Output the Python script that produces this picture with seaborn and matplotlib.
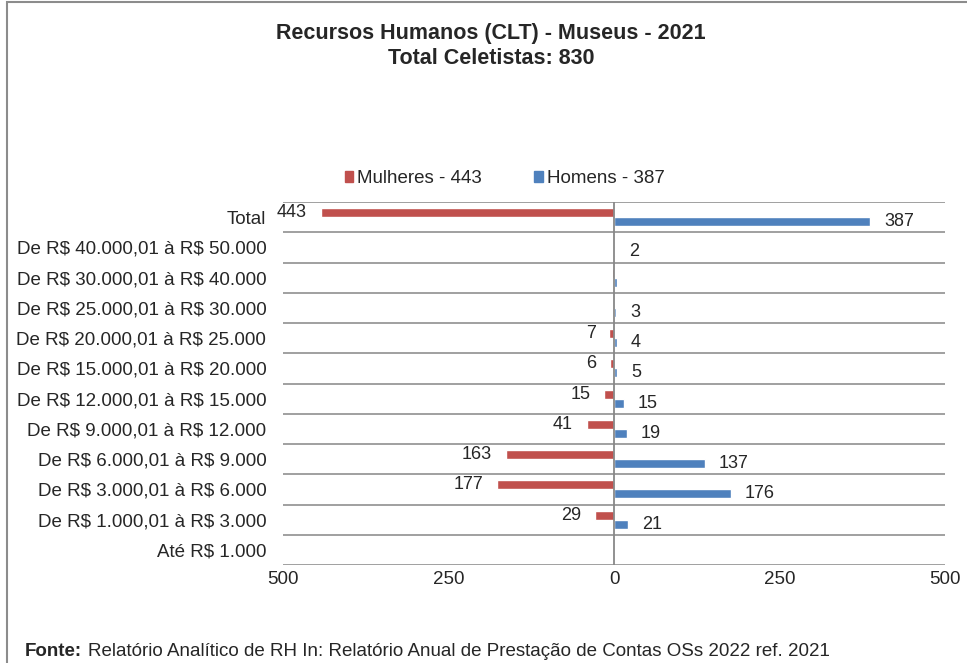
import numpy as np
import pandas as pd
import matplotlib
matplotlib.use("Agg")
import matplotlib.pyplot as plt
import seaborn as sns
from matplotlib.patches import Rectangle

# dados do grafico
faixas = ["Total",
          "De R$ 40.000,01 à R$ 50.000",
          "De R$ 30.000,01 à R$ 40.000",
          "De R$ 25.000,01 à R$ 30.000",
          "De R$ 20.000,01 à R$ 25.000",
          "De R$ 15.000,01 à R$ 20.000",
          "De R$ 12.000,01 à R$ 15.000",
          "De R$ 9.000,01 à R$ 12.000",
          "De R$ 6.000,01 à R$ 9.000",
          "De R$ 3.000,01 à R$ 6.000",
          "De R$ 1.000,01 à R$ 3.000",
          "Até R$ 1.000"]
mulheres = [443, 0, 3, 2, 7, 6, 15, 41, 163, 177, 29, 0]
homens = [387, 2, 5, 3, 4, 5, 15, 19, 137, 176, 21, 0]
rotulos_mulheres = ["443", "", "", "", "7", "6", "15", "41", "163", "177", "29", ""]
rotulos_homens = ["387", "2", "", "3", "4", "5", "15", "19", "137", "176", "21", ""]
ticks_x = [-500, -250, 0, 250, 500]

nome_m = f"Mulheres - {mulheres[0]}"
nome_h = f"Homens - {homens[0]}"

df = pd.DataFrame({
    "Faixa": faixas * 2,
    "Valor": [-v for v in mulheres] + homens,
    "Sexo": [nome_m] * len(faixas) + [nome_h] * len(faixas),
})

sns.set_style("white")
plt.rcParams["font.family"] = ["Liberation Sans", "DejaVu Sans"]

fig = plt.figure(figsize=(9.67, 6.63), dpi=100)
ax = fig.add_axes([0.2927, 0.1478, 0.6846, 0.5475])

sns.barplot(data=df, y="Faixa", x="Valor", hue="Sexo", orient="h",
            hue_order=[nome_m, nome_h], palette=["#C0504D", "#4F81BD"],
            width=0.6, saturation=1, errorbar=None, ax=ax, legend=False)

ax.bar_label(ax.containers[0], labels=rotulos_mulheres, padding=10, fontsize=13)
ax.bar_label(ax.containers[1], labels=rotulos_homens, padding=10, fontsize=13)

ax.set_xlim(-500, 500)
ax.set_ylim(len(faixas) - 0.5, -0.5)
ax.set_xticks(ticks_x)
ax.set_xticklabels([str(abs(t)) for t in ticks_x], fontsize=13.5)
ax.set_yticks(range(len(faixas)))
ax.set_yticklabels([f.replace("$", r"\$") for f in faixas], fontsize=13.5)
ax.set_yticks(np.arange(-0.5, len(faixas), 1), minor=True)
ax.tick_params(axis="both", which="both", length=0)
ax.tick_params(axis="y", pad=12)
ax.tick_params(axis="x", pad=4)
ax.set_xlabel("")
ax.set_ylabel("")
ax.grid(False)
ax.grid(True, axis="y", which="minor", color="#999999", linewidth=1.3)
ax.axvline(0, color="#888888", linewidth=1.3)
for s in ax.spines.values():
    s.set_visible(False)

# legenda
handles = [Rectangle((0, 0), 1, 1, color="#C0504D"), Rectangle((0, 0), 1, 1, color="#4F81BD")]
fig.legend(handles, [nome_m, nome_h], loc="center", bbox_to_anchor=(0.522, 0.731),
           ncol=2, frameon=False, fontsize=13.5, handlelength=0.45, handleheight=0.55,
           handletextpad=0.2, columnspacing=2.8)

fig.text(0.508, 0.965, "Recursos Humanos (CLT) - Museus - 2021\nTotal Celetistas: " + str(mulheres[0] + homens[0]),
         ha="center", va="top", fontsize=15.5, fontweight="bold", linespacing=1.22)

fig.text(0.026, 0.0166, "Fonte:", fontsize=13.5, fontweight="bold", va="center")
fig.text(0.091, 0.0166, "Relatório Analítico de RH In: Relatório Anual de Prestação de Contas OSs 2022 ref. 2021",
         fontsize=13.5, va="center")

# moldura
fig.patches.append(Rectangle((7 / 967, -0.1), 1.2, 1 - 2 / 663 + 0.1, transform=fig.transFigure,
                             fill=False, edgecolor="#8c8c8c", linewidth=1.5))

fig.savefig("out.png", dpi=100)
